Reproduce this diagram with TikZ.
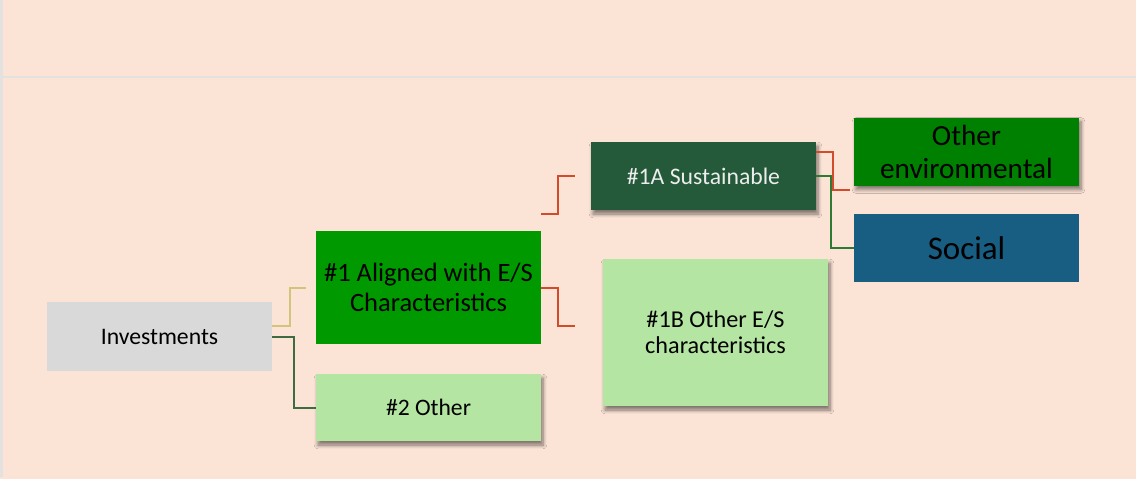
\documentclass[tikz,border=0pt]{standalone}
\usepackage{fontspec}
\setmainfont{Carlito}
\usetikzlibrary{shadows.blur}
\definecolor{peach}{HTML}{FBE3D6}
\definecolor{rulegray}{HTML}{E4E2E0}
\definecolor{invgray}{HTML}{D9D9D9}
\definecolor{alignedgreen}{HTML}{009900}
\definecolor{palegreen}{HTML}{B5E5A2}
\definecolor{sustgreen}{HTML}{245A3A}
\definecolor{envgreen}{HTML}{008000}
\definecolor{socialblue}{HTML}{175E82}
\definecolor{linkyel}{HTML}{D4C37C}
\definecolor{linkdkg}{HTML}{3E6B40}
\definecolor{linkred}{HTML}{D24B2A}
\definecolor{linkgrn}{HTML}{2F7A33}
\begin{document}
\begin{tikzpicture}[x=0.5pt,y=-0.5pt, line join=miter,
	box/.style={minimum width=112.5pt, inner sep=0pt, align=center},
	shade/.style={blur shadow={shadow xshift=1pt, shadow yshift=-2pt, shadow blur steps=6, shadow opacity=50}},
	link/.style={line width=1pt}]
	\def\W{1136} \def\H{479}
	\useasboundingbox (0,0) rectangle (\W,\H);
	\fill[peach] (0,0) rectangle (\W,\H);
	\draw[rulegray, line width=1.2pt] (0,77) -- (\W,77);
	\draw[rulegray, line width=1.2pt] (1.5,0) -- (1.5,477);
	% boxes
	\node[box, fill=invgray, minimum height=34.5pt, font=\fontsize{11.85}{14}\selectfont] (inv) at (159.5,336.5) {Investments};
	\node[box, fill=alignedgreen, minimum height=56.5pt, font=\fontsize{13.25}{15}\selectfont] (a1) at (428.5,287.5) {\#1 Aligned with E/S\\Characteristics};
	\node[box, fill=palegreen, shade, minimum height=33.5pt, font=\fontsize{11.8}{14}\selectfont] (o2) at (428.5,407.5) {\#2 Other};
	\node[box, fill=sustgreen, shade, text=white!93!black, minimum height=34pt, font=\fontsize{11.85}{14}\selectfont] (s1a) at (703.5,176) {\#1A Sustainable};
	\node[box, fill=palegreen, shade, minimum height=73.5pt, font=\fontsize{12.1}{13}\selectfont] (b1) at (715.5,332.5) {\#1B Other E/S\\characteristics};
	\node[box, fill=envgreen, shade, minimum height=34pt, font=\fontsize{14.6}{16.5}\selectfont] (oe) at (966.5,151.5) {Other\\environmental};
	\node[box, fill=socialblue, minimum height=34pt, font=\fontsize{16.5}{18}\selectfont] (soc) at (966.5,248) {Social};
	% free ends
	\coordinate (a1in) at (306,288);
	\coordinate (b1in) at (575,326);
	\coordinate (oein) at (850,190);
	% connectors
	\draw[link, linkyel] ([yshift=5.25pt]inv.east) -| ([xshift=-8pt]a1in) -- (a1in);
	\draw[link, linkdkg] (inv.east) -| ([xshift=-11pt]o2.west) -- (o2.west);
	\draw[link, linkred] ([yshift=8.5pt]a1.north east) -| ([xshift=-16.5pt]s1a.west) -- ([xshift=-8pt]s1a.west);
	\draw[link, linkred] (a1.east) -| ([xshift=-8.5pt]b1in) -- (b1in);
	\draw[link, linkred] ([yshift=12pt]s1a.east) -| ([xshift=-8.5pt]oein) -- (oein);
	\draw[link, linkgrn] (s1a.east) -| ([xshift=-11.5pt]soc.west) -- (soc.west);
\end{tikzpicture}
\end{document}
